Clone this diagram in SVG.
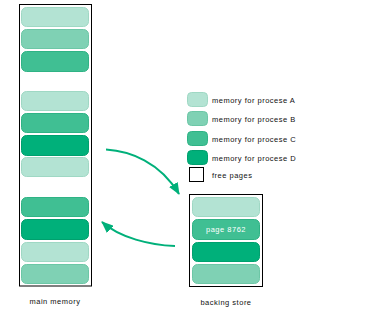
<svg xmlns="http://www.w3.org/2000/svg" width="372" height="328" viewBox="0 0 372 328">
<defs>
<style>
.t{font-family:"Liberation Sans",Arial,sans-serif;font-size:7.5px;fill:#111;letter-spacing:0.5px}
.box{fill:#fff;stroke:#000;stroke-width:1}
.A{fill:#b3e3d3;stroke:#9fd8c4;stroke-width:1}
.B{fill:#7fd1b4;stroke:#6cc7a6;stroke-width:1}
.C{fill:#40bf93;stroke:#2fb385;stroke-width:1}
.D{fill:#00b07a;stroke:#00a06e;stroke-width:1}
.arr{fill:none;stroke:#00b07a;stroke-width:2;marker-end:url(#ah)}
</style>
<marker id="ah" viewBox="0 0 12 10" refX="11" refY="5" markerWidth="6" markerHeight="5" orient="auto" markerUnits="strokeWidth">
<path d="M0,0 L12,5 L0,10 z" fill="#00b07a"/>
</marker>
</defs>
<rect width="372" height="328" fill="#fff"/>
<g id="main-memory">
<rect class="box" x="19.5" y="4.5" width="72" height="281.5"/>
<rect class="A" x="21.5" y="7.5" width="67" height="19" rx="5"/>
<rect class="B" x="21.5" y="29.5" width="67" height="19" rx="5"/>
<rect class="C" x="21.5" y="51.5" width="67" height="20" rx="5"/>
<rect class="A" x="21.5" y="91.5" width="67" height="19" rx="5"/>
<rect class="C" x="21.5" y="113.5" width="67" height="19" rx="5"/>
<rect class="D" x="21.5" y="135.5" width="67" height="20" rx="5"/>
<rect class="A" x="21.5" y="157.5" width="67" height="19" rx="5"/>
<rect class="C" x="21.5" y="197.5" width="67" height="19" rx="5"/>
<rect class="D" x="21.5" y="219.5" width="67" height="20" rx="5"/>
<rect class="A" x="21.5" y="242.5" width="67" height="19" rx="5"/>
<rect class="B" x="21.5" y="264.5" width="67" height="19" rx="5"/>
<text class="t" x="55" y="304" text-anchor="middle">main memory</text>
</g>
<g id="backing-store">
<rect class="box" x="189.5" y="194.5" width="73" height="92"/>
<rect class="A" x="192.5" y="197.5" width="67" height="19" rx="5"/>
<rect class="C" x="192.5" y="219.5" width="67" height="20" rx="5"/>
<text class="t" x="226" y="232" text-anchor="middle" style="fill:#fff">page 8762</text>
<rect class="D" x="192.5" y="242.5" width="67" height="19" rx="5"/>
<rect class="B" x="192.5" y="264.5" width="67" height="19" rx="5"/>
<text class="t" x="226" y="305" text-anchor="middle">backing store</text>
</g>
<g id="legend">
<rect class="A" x="187.5" y="92.5" width="20" height="14" rx="4"/>
<text class="t" x="212" y="103">memory for procese A</text>
<rect class="B" x="187.5" y="111.5" width="20" height="14" rx="4"/>
<text class="t" x="212" y="122">memory for procese B</text>
<rect class="C" x="187.5" y="131.5" width="20" height="14" rx="4"/>
<text class="t" x="212" y="141.5">memory for procese C</text>
<rect class="D" x="187.5" y="150.5" width="20" height="14" rx="4"/>
<text class="t" x="212" y="160.5">memory for procese D</text>
<rect class="box" x="189.5" y="167.5" width="14" height="14"/>
<text class="t" x="212" y="178">free pages</text>
</g>
<g id="connectors">
<path class="arr" d="M106,149.5 C130,151 160,162 179,194"/>
<path class="arr" d="M175,246 C150,245 120,238 102,222"/>
</g>
</svg>
